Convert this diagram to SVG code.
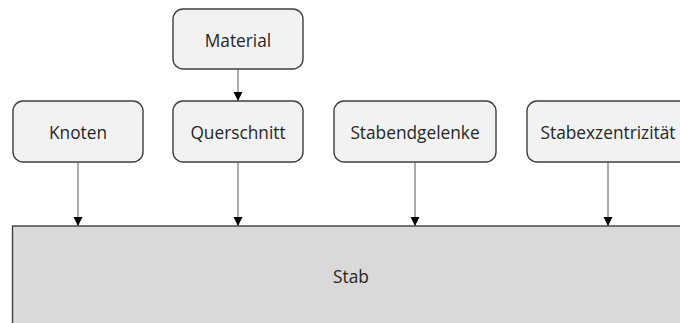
<svg xmlns="http://www.w3.org/2000/svg" width="680" height="323" viewBox="0 0 680 323">
<style>
.box{fill:#f2f2f2;stroke:#3f3f3f;stroke-width:1.4}
.stab{fill:#d9d9d9;stroke:#3f3f3f;stroke-width:1.4}
.t{font-family:"Open Sans","Liberation Sans",sans-serif;font-size:17.3px;fill:#262626;text-anchor:middle;dominant-baseline:central}
.c{stroke:#595959;stroke-width:1;fill:none;marker-end:url(#ah)}
</style>
<defs>
<marker id="ah" markerWidth="10" markerHeight="10" refX="9" refY="5" orient="auto" markerUnits="userSpaceOnUse">
<path d="M0,0.5 L9,5 L0,9.5 Z" fill="#000"/>
</marker>
</defs>
<g id="stab"><rect class="stab" x="12.5" y="226" width="680" height="110"/><text class="t" x="351" y="276">Stab</text></g>
<g id="material"><rect class="box" x="173" y="9" width="130" height="60" rx="10"/><text class="t" x="238" y="40">Material</text></g>
<g id="knoten"><rect class="box" x="13" y="101" width="130" height="61" rx="10"/><text class="t" x="78" y="132">Knoten</text></g>
<g id="querschnitt"><rect class="box" x="173" y="101" width="130" height="61" rx="10"/><text class="t" x="238" y="132">Querschnitt</text></g>
<g id="stabendgelenke"><rect class="box" x="334" y="101" width="162" height="61" rx="10"/><text class="t" x="415" y="132">Stabendgelenke</text></g>
<g id="stabexzentrizitaet"><rect class="box" x="527" y="101" width="162" height="61" rx="10"/><text class="t" x="608" y="132">Stabexzentrizität</text></g>
<g id="connectors">
<line class="c" x1="238" y1="69" x2="238" y2="101"/>
<line class="c" x1="78" y1="162" x2="78" y2="226"/>
<line class="c" x1="238" y1="162" x2="238" y2="226"/>
<line class="c" x1="415" y1="162" x2="415" y2="226"/>
<line class="c" x1="608" y1="162" x2="608" y2="226"/>
</g>
</svg>
